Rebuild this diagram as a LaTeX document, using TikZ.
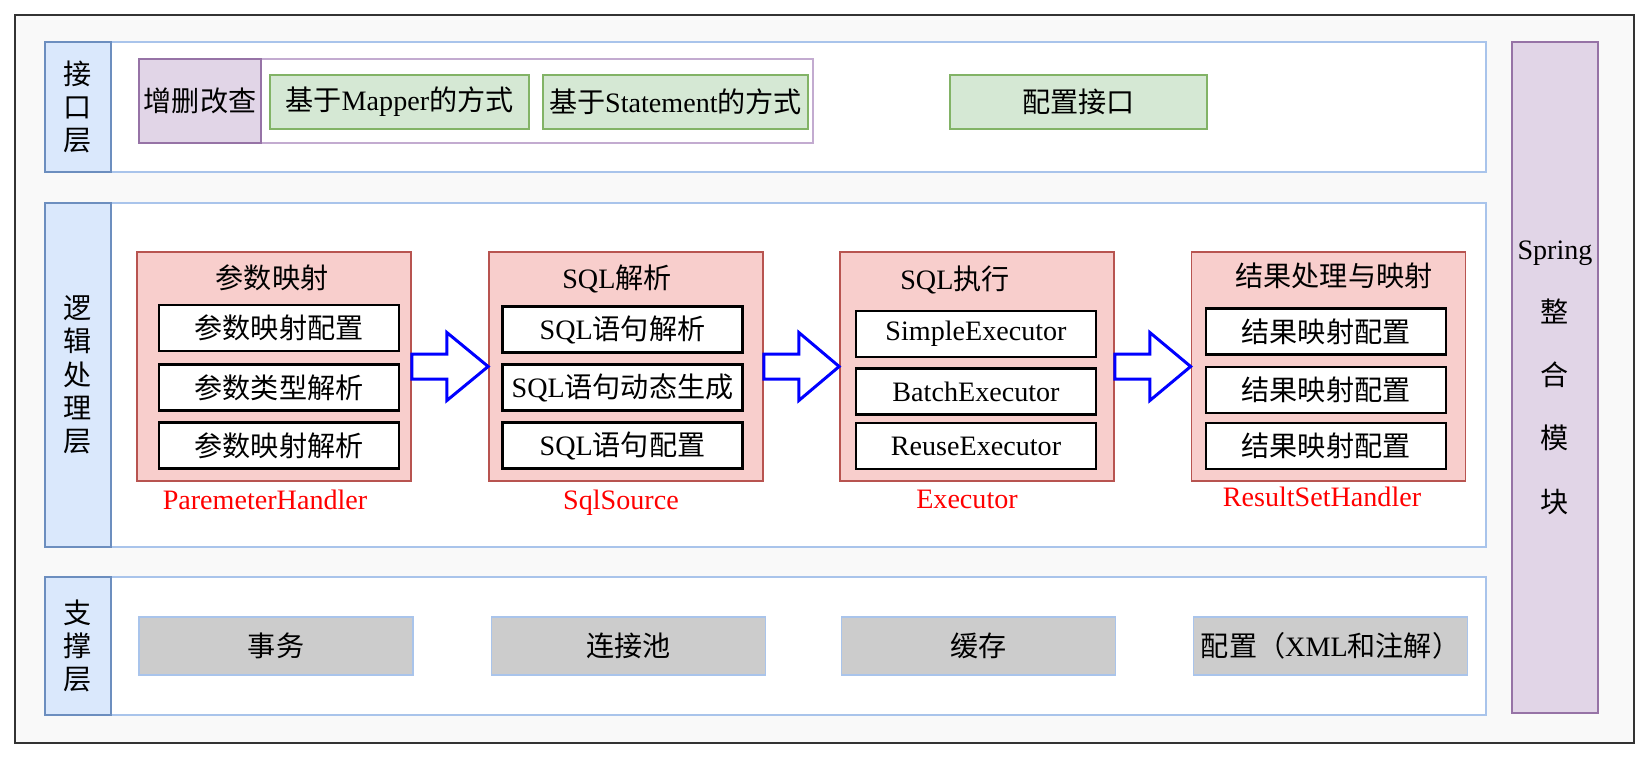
\documentclass[tikz,border=0pt]{standalone}
\usepackage{fontspec}
\setmainfont{Liberation Serif}
\newfontfamily\zh{Noto Sans CJK SC}
\usepackage{tikz}
\usetikzlibrary{calc}

\definecolor{framegray}{HTML}{333333}
\definecolor{bggray}{HTML}{F9F9F9}
\definecolor{labelfill}{HTML}{DAE8FC}
\definecolor{labelline}{HTML}{6C8EBF}
\definecolor{bodyline}{HTML}{A9C4EB}
\definecolor{springfill}{HTML}{E1D5E7}
\definecolor{springline}{HTML}{9673A6}
\definecolor{groupline}{HTML}{C3ABD0}
\definecolor{greenfill}{HTML}{D5E8D4}
\definecolor{greenline}{HTML}{82B366}
\definecolor{pinkfill}{HTML}{F8CECC}
\definecolor{pinkline}{HTML}{B85450}
\definecolor{grayfill}{HTML}{CCCCCC}

\newcommand\eng[1]{{\rmfamily#1}}

\tikzset{
    layerbody/.style={draw=bodyline, fill=white, line width=0.9pt, minimum width=27.5cm, inner sep=0pt},
    layerlabel/.style={draw=labelline, fill=labelfill, line width=1pt, align=center, minimum width=1.32cm, inner sep=0pt},
    spring/.style={draw=springline, fill=springfill, line width=1pt, align=center, minimum width=1.72cm, minimum height=13.42cm, inner sep=0pt, font=\zh\fontsize{16}{36}\selectfont},
    crudgroup/.style={draw=groupline, fill=white, line width=0.9pt, minimum width=13.48cm, minimum height=1.68cm},
    crudbox/.style={draw=springline, fill=springfill, line width=1pt, minimum width=2.44cm, minimum height=1.68cm, inner sep=1pt},
    greenbox/.style={draw=greenline, fill=greenfill, line width=1pt, minimum height=1.08cm, inner sep=2pt},
    pinkbox/.style={draw=pinkline, fill=pinkfill, line width=1pt, minimum width=5.48cm, minimum height=4.58cm},
    itembox/.style={draw=black, fill=white, line width=1.3pt, minimum width=4.8cm, minimum height=0.92cm, inner sep=2pt},
    graybox/.style={draw=bodyline, fill=grayfill, line width=1pt, minimum width=5.48cm, minimum height=1.16cm, inner sep=2pt},
    redlabel/.style={text=red, font=\rmfamily\fontsize{16}{19}\selectfont},
    blockarrow/.style={draw=blue, fill=white, line width=1.7pt, line join=miter}
}

\begin{document}
\begin{tikzpicture}[x=0.02cm, y=-0.02cm, font=\zh\fontsize{16}{19}\selectfont]
    \useasboundingbox (0,0) rectangle (1648,758);
    \draw[draw=framegray, fill=bggray, line width=1.2pt] (15,15) rectangle (1634,743);

    % layers
    \node[layerbody, minimum height=2.6cm] (b1) at (798.5,107) {};
    \node[layerlabel, minimum height=2.6cm] (l1) at (78,107) {接\\口\\层};
    \node[layerbody, minimum height=6.88cm] (b2) at (798.5,375) {};
    \node[layerlabel, minimum height=6.88cm] (l2) at (78,375) {逻\\辑\\处\\理\\层};
    \node[layerbody, minimum height=2.76cm] (b3) at (798.5,646) {};
    \node[layerlabel, minimum height=2.76cm] (l3) at (78,646) {支\\撑\\层};
    \node[spring] (sp) at (1555,377.5) {\eng{Spring}\\整\\合\\模\\块};

    % interface layer
    \node[crudgroup] (grp) at (476,101) {};
    \node[crudbox] (crud) at (200,101) {增删改查};
    \node[greenbox, minimum width=5.18cm] (mapper) at (399.5,102) {基于\eng{Mapper}的方式};
    \node[greenbox, minimum width=5.3cm] (stmt) at (675.5,102) {基于\eng{Statement}的方式};
    \node[greenbox, minimum width=5.14cm] (conf) at (1078.5,102) {配置接口};

    % logic layer
    \node[pinkbox] (p1) at (274,366.5) {};
    \node (t1) at (272,278) {参数映射};
    \node[itembox] (p1a) at (279,328) {参数映射配置};
    \node[itembox] (p1b) at (279,387.5) {参数类型解析};
    \node[itembox] (p1c) at (279,445.5) {参数映射解析};
    \node[redlabel] (h1) at (265,500) {ParemeterHandler};

    \node[pinkbox] (p2) at (626,366.5) {};
    \node (t2) at (617,279) {\eng{SQL}解析};
    \node[itembox] (p2a) at (622.5,329.5) {\eng{SQL}语句解析};
    \node[itembox] (p2b) at (622.5,387.5) {\eng{SQL}语句动态生成};
    \node[itembox] (p2c) at (622.5,445.5) {\eng{SQL}语句配置};
    \node[redlabel] (h2) at (621,503) {SqlSource};

    \node[pinkbox] (p3) at (977,366.5) {};
    \node (t3) at (955,280) {\eng{SQL}执行};
    \node[itembox] (p3a) at (976,334) {\eng{SimpleExecutor}};
    \node[itembox] (p3b) at (976,391.5) {\eng{BatchExecutor}};
    \node[itembox] (p3c) at (976,446) {\eng{ReuseExecutor}};
    \node[redlabel] (h3) at (967,499) {Executor};

    \node[pinkbox] (p4) at (1328.5,366.5) {};
    \node (t4) at (1334,276) {结果处理与映射};
    \node[itembox] (p4a) at (1326,331.5) {结果映射配置};
    \node[itembox] (p4b) at (1326,390) {结果映射配置};
    \node[itembox] (p4c) at (1326,446) {结果映射配置};
    \node[redlabel] (h4) at (1322,497) {ResultSetHandler};

    \foreach \a/\b in {p1/p2,p2/p3,p3/p4}
        \draw[blockarrow] ($(\a.east)+(0,-12.5)$) -- ++(35,0) -- ++(0,-21.5) -- (\b.west)
            -- ($(\a.east)+(35,34)$) -- ++(0,-21.5) -- ++(-35,0) -- cycle;

    % support layer
    \node[graybox] (s1) at (276,646) {事务};
    \node[graybox] (s2) at (628.5,646) {连接池};
    \node[graybox] (s3) at (978.5,646) {缓存};
    \node[graybox] (s4) at (1330.5,646) {配置（\eng{XML}和注解）};
\end{tikzpicture}
\end{document}
